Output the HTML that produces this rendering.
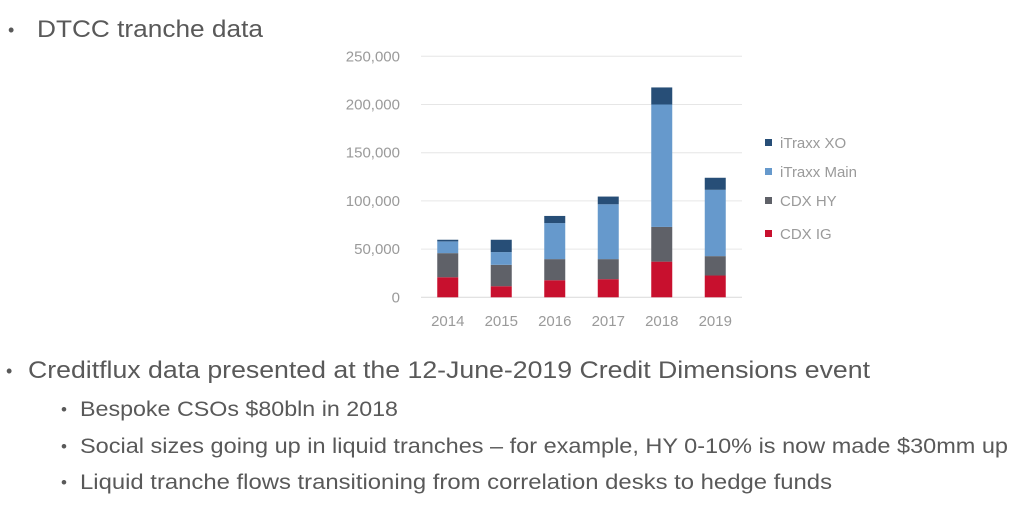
<!DOCTYPE html>
<html><head><meta charset="utf-8"><style>
html,body{margin:0;padding:0;background:#fff;}
svg{display:block;font-family:"Liberation Sans",sans-serif;}
</style></head><body>
<svg id="chart" width="1024" height="512" viewBox="0 0 1024 512">
<g fill="#595959">
<text x="8" y="36" font-size="18">•</text>
<text x="37" y="37" font-size="24" textLength="226" lengthAdjust="spacingAndGlyphs">DTCC tranche data</text>
<text x="6" y="377" font-size="18">•</text>
<text x="28" y="378" font-size="24" textLength="842" lengthAdjust="spacingAndGlyphs">Creditflux data presented at the 12-June-2019 Credit Dimensions event</text>
<text x="61" y="415" font-size="17">•</text>
<text x="80" y="416" font-size="21" textLength="318" lengthAdjust="spacingAndGlyphs">Bespoke CSOs $80bln in 2018</text>
<text x="61" y="452" font-size="17">•</text>
<text x="80" y="453" font-size="21" textLength="928" lengthAdjust="spacingAndGlyphs">Social sizes going up in liquid tranches – for example, HY 0-10% is now made $30mm up</text>
<text x="61" y="488" font-size="17">•</text>
<text x="80" y="489" font-size="21" textLength="752" lengthAdjust="spacingAndGlyphs">Liquid tranche flows transitioning from correlation desks to hedge funds</text>
</g>
<g id="grid"></g>
<g id="yaxis"></g>
<g id="bars"></g>
<g id="xaxis"></g>
<g id="legend"></g>
</svg>
<script>
const categories = ["2014","2015","2016","2017","2018","2019"];
const cdxIG = [20.8, 11.5, 17.7, 18.8, 37, 22.6];
const cdxHY = [25, 22.2, 21.9, 20.8, 36, 20.1];
const itraxxMain = [12.2, 13.2, 37.4, 56.9, 127, 68.8];
const itraxxXO = [1.7, 12.8, 7.4, 8, 17.7, 12.5];
const yTicks = [0, 50000, 100000, 150000, 200000, 250000];
const yTickLabels = ["0","50,000","100,000","150,000","200,000","250,000"];
const seriesNames = ["iTraxx XO","iTraxx Main","CDX HY","CDX IG"];

const NS = "http://www.w3.org/2000/svg";
const X0 = 421, X1 = 742, Y0 = 297.3, Y1 = 56.3, YMAX = 250000;
const y = v => Y0 - (v / YMAX) * (Y0 - Y1);
const band = (X1 - X0) / categories.length;
const xc = i => X0 + band * (i + 0.5);
const BW = 21;
function mk(tag, attrs, parent) {
  const e = document.createElementNS(NS, tag);
  for (const k in attrs) e.setAttribute(k, attrs[k]);
  parent.appendChild(e);
  return e;
}
const grid = document.getElementById('grid'), yax = document.getElementById('yaxis'),
      bars = document.getElementById('bars'), xax = document.getElementById('xaxis'),
      leg = document.getElementById('legend');
yTicks.forEach((t, i) => {
  const l = mk('line', {x1: X0, x2: X1, y1: y(t), y2: y(t), stroke: i === 0 ? '#d9d9d9' : '#e6e6e6', 'stroke-width': 1}, grid);
  
  
  const tx = mk('text', {x: 400, y: y(t) + 5, 'text-anchor': 'end', 'font-size': 15, fill: '#9a9a9a'}, yax);
  tx.textContent = yTickLabels[i];
  
  
});
const stack = [
  {vals: cdxIG, color: '#c8102e', name: 'cdx-ig'},
  {vals: cdxHY, color: '#5f6168', name: 'cdx-hy'},
  {vals: itraxxMain, color: '#6699cc', name: 'itraxx-main'},
  {vals: itraxxXO, color: '#274e77', name: 'itraxx-xo'}
];
categories.forEach((c, i) => {
  let base = 0;
  stack.forEach(s => {
    const v = s.vals[i] * 1000;
    const r = mk('rect', {x: xc(i) - BW / 2, y: y(base + v), width: BW, height: y(base) - y(base + v), fill: s.color}, bars);
    
    
    base += v;
  });
  const tx = mk('text', {x: xc(i), y: 326, 'text-anchor': 'middle', 'font-size': 15, fill: '#9a9a9a'}, xax);
  tx.textContent = c;
  
  
});
const legColors = ['#274e77', '#6699cc', '#5f6168', '#c8102e'];
const legY = [148, 177, 206, 239];
seriesNames.forEach((n, i) => {
  const r = mk('rect', {x: 765, y: legY[i] - 9, width: 7, height: 7, fill: legColors[i]}, leg);
  
  
  const t = mk('text', {x: 780, y: legY[i], 'font-size': 15, fill: '#9a9a9a'}, leg);
  t.textContent = n;
  
  
});
</script>
</body></html>
